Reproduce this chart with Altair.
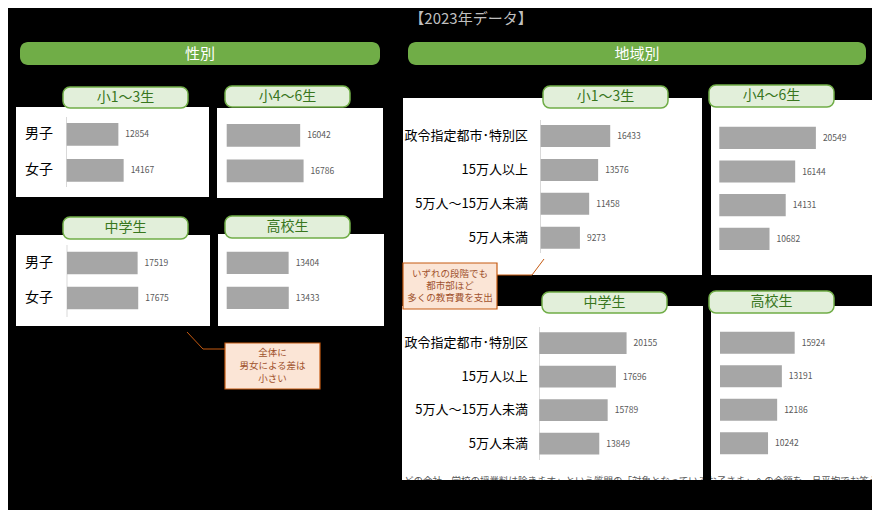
import altair as alt
import pandas as pd

# ---------------- data ----------------
grades = ["小1～3生", "小4～6生", "中学生", "高校生"]
genders = ["男子", "女子"]
boys = [12854, 16042, 17519, 13404]
girls = [14167, 16786, 17675, 13433]
regions = ["政令指定都市･特別区", "15万人以上", "5万人～15万人未満", "5万人未満"]
region_g1 = [16433, 13576, 11458, 9273]
region_g2 = [20549, 16144, 14131, 10682]
region_g3 = [20155, 17696, 15789, 13849]
region_g4 = [15924, 13191, 12186, 10242]

title_text = "【2023年データ】"
section_titles = ["性別", "地域別"]
note_gender = ["全体に", "男女による差は", "小さい"]
note_region = ["いずれの段階でも", "都市部ほど", "多くの教育費を支出"]
footnote = "どの会社、学校の授業料は除きます」という質問の「対象となっているお子さま」への金額を、月平均でお答えく"

# ---------------- styling helpers ----------------
OFF = 8
FONT = "Noto Sans CJK JP"
GREEN = "#70ad47"
TAB_FILL = "#e2efda"
TAB_TEXT = "#38761d"
BAR = "#a6a6a6"
NOTE_FILL = "#fbe5d6"
NOTE_STROKE = "#c55a11"
NOTE_TEXT = "#a0522d"
one = pd.DataFrame({"k": [0]})


def rect(x0, y0, x1, y1, fill, stroke=None, sw=0, r=0):
    kw = dict(fill=fill, cornerRadius=r)
    if stroke:
        kw.update(stroke=stroke, strokeWidth=sw)
    return alt.Chart(one).mark_rect(**kw).encode(
        x=alt.value(x0 - OFF), x2=alt.value(x1 - OFF),
        y=alt.value(y0 - OFF), y2=alt.value(y1 - OFF))


def label(text, x, y, size, color, align="center", baseline="middle", lh=None, weight="normal"):
    kw = dict(text=text, fontSize=size, color=color, align=align, baseline=baseline,
              font=FONT, fontWeight=weight)
    if lh:
        kw["lineHeight"] = lh
    return alt.Chart(one).mark_text(**kw).encode(x=alt.value(x - OFF), y=alt.value(y - OFF))


def line(x0, y0, x1, y1, color, w=1):
    return alt.Chart(one).mark_rule(color=color, strokeWidth=w).encode(
        x=alt.value(x0 - OFF), x2=alt.value(x1 - OFF),
        y=alt.value(y0 - OFF), y2=alt.value(y1 - OFF))


def panel(cats, vals, x0, k, top, step, bw, label_x=None, cat_size=13):
    df = pd.DataFrame({"cat": cats, "v": vals})
    pi = 1 - bw / step
    start = top - step * pi / 2
    ys = alt.Scale(domain=cats, range=[start - OFF, start + step * len(cats) - OFF],
                   paddingInner=pi, paddingOuter=pi / 2)
    xs = alt.Scale(domain=[0, 20000], range=[x0 - OFF, x0 + 20000 * k - OFF], nice=False)
    Y = alt.Y("cat:N", scale=ys, axis=None)
    X = alt.X("v:Q", scale=xs, axis=None)
    base = alt.Chart(df)
    layers = [
        base.mark_bar(color=BAR).encode(x=X, y=Y),
        base.mark_text(align="left", dx=7, fontSize=8.5, color="#595959", font=FONT).encode(
            x=X, y=Y, text=alt.Text("v:Q", format="d")),
    ]
    if label_x is not None:
        layers.append(base.mark_text(align="right", fontSize=cat_size, color="#000000", font=FONT).encode(
            x=alt.value(label_x - OFF), y=Y, text="cat:N"))
    return alt.layer(*layers)


def tab(x0, y0, x1, y1, text):
    return [rect(x0, y0, x1, y1, TAB_FILL, GREEN, 1.5, 7),
            label(text, (x0 + x1) / 2, (y0 + y1) / 2, 14, TAB_TEXT)]


layers = []
# title and section headers
layers.append(label(title_text, 471, 19, 15, "#bfbfbf"))
layers.append(rect(20, 42, 380, 65, GREEN, r=8))
layers.append(label(section_titles[0], 200, 53.5, 15, "white"))
layers.append(rect(408, 42, 866, 65, GREEN, r=8))
layers.append(label(section_titles[1], 637, 53.5, 15, "white"))

# white panel boxes
for b in [(16, 107, 209, 197), (217, 108, 383, 198), (16, 235, 210, 326), (218, 234, 384, 326),
          (403, 98, 702, 275), (711, 100, 880, 275), (402, 306, 703, 480), (711, 306, 880, 480)]:
    layers.append(rect(*b, "white"))

# footnote (partially hidden below)
layers.append(label(footnote, 404, 484, 9.5, "#595959", align="left", baseline="alphabetic"))
layers.append(rect(703, 300, 711, 480, "black"))
layers.append(rect(0, 480, 880, 520, "black"))

# tabs
layers += tab(63, 87, 188, 108, grades[0])
layers += tab(225, 86, 350, 107, grades[1])
layers += tab(63, 217, 188, 239, grades[2])
layers += tab(225, 216, 350, 238, grades[3])
layers += tab(543, 86, 668, 108, grades[0])
layers += tab(709, 85, 834, 107, grades[1])
layers += tab(542, 292, 667, 313, grades[2])
layers += tab(709, 291, 834, 313, grades[3])

# axis lines
AX = "#d9d9d9"
layers.append(line(66.5, 117, 66.5, 187, AX))
layers.append(line(67, 245, 67, 317, AX))
layers.append(line(540.5, 120, 540.5, 253, AX))
layers.append(line(539.5, 327, 539.5, 460, AX))

# gender panels
layers.append(panel(genders, [boys[0], girls[0]], 66.7, 0.00402, 123, 36, 22.8, label_x=53, cat_size=14))
layers.append(panel(genders, [boys[1], girls[1]], 226.7, 0.00458, 124, 35.5, 22.7))
layers.append(panel(genders, [boys[2], girls[2]], 67, 0.00403, 251.7, 35, 22.6, label_x=53, cat_size=14))
layers.append(panel(genders, [boys[3], girls[3]], 226.7, 0.00462, 251.7, 35, 22.4))

# region panels
layers.append(panel(regions, region_g1, 540.7, 0.00423, 125, 33.9, 22, label_x=528))
layers.append(panel(regions, region_g2, 719.3, 0.00470, 126.7, 33.7, 22.2))
layers.append(panel(regions, region_g3, 539.3, 0.00433, 332.3, 33.5, 21.7, label_x=528))
layers.append(panel(regions, region_g4, 720, 0.00469, 331.7, 33.5, 22))

# callouts
layers.append(line(187, 332, 203, 349, NOTE_STROKE))
layers.append(line(203, 349, 225, 349, NOTE_STROKE))
layers.append(rect(225, 343, 320, 389, NOTE_FILL, NOTE_STROKE, 1.2))
layers.append(label(note_gender, 272.5, 353, 9.5, NOTE_TEXT, lh=13))

layers.append(line(497, 275, 532, 275, NOTE_STROKE))
layers.append(line(532, 275, 544, 259, NOTE_STROKE))
layers.append(rect(403, 263, 497, 309, NOTE_FILL, NOTE_STROKE, 1.2))
layers.append(label(note_region, 450, 273.5, 9.5, NOTE_TEXT, lh=12))

chart = alt.layer(*layers).resolve_scale(x="independent", y="independent").properties(
    width=864, height=502, background="black", padding=0,
    autosize=alt.AutoSizeParams(type="none"),
).configure_view(stroke=None)

chart.save("out.html", embed_options={"renderer": "svg", "actions": False})
